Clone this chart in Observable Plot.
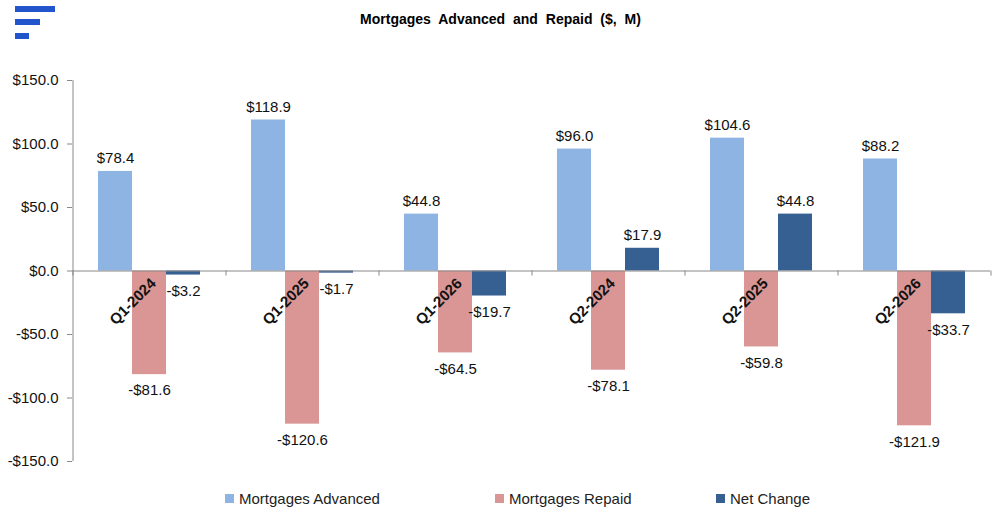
<!DOCTYPE html>
<html><head><meta charset="utf-8">
<script src="https://cdn.jsdelivr.net/npm/d3@7"></script>
<script src="https://cdn.jsdelivr.net/npm/@observablehq/plot@0.6"></script>
<style>
body{margin:0;font-family:"Liberation Sans",Arial,sans-serif;background:#fff}
#wrap{position:relative;width:1001px;height:531px}
#title{position:absolute;top:11px;left:0;width:1001px;text-align:center;font-weight:bold;font-size:14px;word-spacing:4px}
.lg{position:absolute;top:490px;font-size:15px;color:#222;display:flex;align-items:center}
.lg span{display:inline-block;width:9px;height:9px;margin-right:5px}
.logo{position:absolute;left:15px;background:#2255cc}
#chart{position:absolute;left:0;top:0}
</style></head><body>
<div id="wrap">
<div id="chart"></div>
<div class="logo" style="top:6px;width:40px;height:6px"></div>
<div class="logo" style="top:19px;width:25px;height:6px"></div>
<div class="logo" style="top:33px;width:14px;height:6px"></div>
<div id="title">Mortgages Advanced and Repaid ($, M)</div>
<div class="lg" style="left:225px"><span style="background:#8EB4E3"></span>Mortgages Advanced</div>
<div class="lg" style="left:495px"><span style="background:#D99694"></span>Mortgages Repaid</div>
<div class="lg" style="left:716px"><span style="background:#376092"></span>Net Change</div>
</div>
<script>
const categories = ["Q1-2024","Q1-2025","Q1-2026","Q2-2024","Q2-2025","Q2-2026"];
const series = ["Mortgages Advanced","Mortgages Repaid","Net Change"];
const advanced = [78.4,118.9,44.8,96.0,104.6,88.2];
const repaid = [-81.6,-120.6,-64.5,-78.1,-59.8,-121.9];
const net = [-3.2,-1.7,-19.7,17.9,44.8,-33.7];
const colors = ["#8EB4E3","#D99694","#376092"];
const yTicks = [-150,-100,-50,0,50,100,150];

const data = [];
categories.forEach((c,i)=>{
  [advanced,repaid,net].forEach((arr,j)=>data.push({cat:c, s:series[j], v:arr[i]}));
});
const fmt = v => (v<0?"-$":"$")+Math.abs(v).toFixed(1);
const gray = "#888";

const chart = Plot.plot({
  width:1001, height:531,
  marginLeft:70, marginRight:9, marginTop:80, marginBottom:70,
  style:{fontFamily:"Liberation Sans, Arial, sans-serif", fontSize:"15px", color:"#111"},
  fx:{domain:categories, padding:0, axis:null},
  x:{domain:series, paddingInner:0, paddingOuter:0.7, axis:null},
  y:{domain:[-150,150], axis:null},
  color:{domain:series, range:colors},
  marks:[
    Plot.barY(data,{fx:"cat", x:"s", y:"v", fill:"s"}),
    Plot.ruleY([0],{stroke:gray}),
    Plot.ruleX(categories,{fx:d=>d, x:()=>"Mortgages Advanced", dx:-42.5, y1:0, y2:-4, stroke:gray}),
    Plot.ruleX([categories[5]],{fx:d=>d, x:()=>"Net Change", dx:42.5, y1:0, y2:-4, stroke:gray}),
    Plot.ruleX([categories[0]],{fx:d=>d, x:()=>"Mortgages Advanced", dx:-42.5, y1:-150, y2:150, stroke:gray}),
    Plot.axisY({fx:categories[0], ticks:yTicks, tickFormat:fmt, tickSize:5, stroke:gray, label:null, fontSize:15, fill:"#111", tickPadding:9}),
    Plot.text(data.filter(d=>d.v>=0),{fx:"cat", x:"s", y:"v", text:d=>fmt(d.v), dy:-13, fontSize:15, fill:"#111"}),
    Plot.text(data.filter(d=>d.v<0),{fx:"cat", x:"s", y:"v", text:d=>fmt(d.v), dy:16, fontSize:15, fill:"#111"}),
    Plot.text(categories,{fx:d=>d, x:()=>"Mortgages Repaid", y:()=>0, text:d=>d, rotate:-45,
      textAnchor:"end", dx:4, dy:10, fontWeight:"bold", fontSize:15, fill:"#111"})
  ]
});
document.getElementById("chart").append(chart);
</script>
</body></html>
